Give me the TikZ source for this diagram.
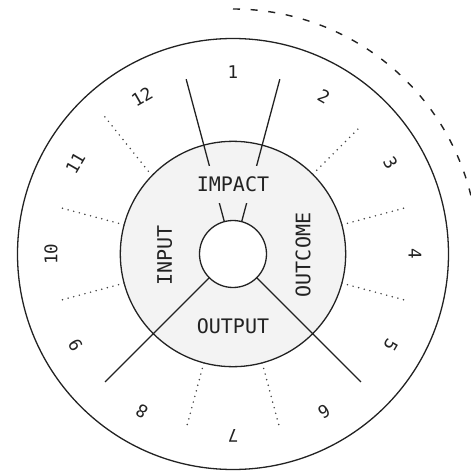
\documentclass[tikz,border=0pt]{standalone}
\usepackage{fontspec}
\newfontfamily\monof{DejaVu Sans Mono}
\definecolor{ink}{HTML}{222222}
\definecolor{midfill}{HTML}{F3F3F3}
\definecolor{dotink}{HTML}{444444}
\tikzset{
  ring/.style={circle, draw=ink, line width=1.3pt, inner sep=0pt, outer sep=0pt},
  spoke/.style={draw=ink, line width=1.3pt},
  dotline/.style={draw=dotink, line width=1.7pt, line cap=round, dash pattern=on 0pt off 5.8pt},
  dashline/.style={draw=ink, line width=1.4pt, dash pattern=on 7pt off 10.7pt},
  sector/.style={font=\monof\fontsize{20}{24}\selectfont, text=ink, inner sep=0pt},
  num/.style={font=\monof\fontsize{17.5}{20}\selectfont, text=ink, inner sep=0pt}
}
\begin{document}
\begin{tikzpicture}[x=1pt,y=1pt]
\useasboundingbox (-233,-218) rectangle (238,254);
\clip (-233,-218) rectangle (238,254);
% dashed arc
\draw[dashline] (90:245) arc[start angle=90, end angle=-10, radius=245];
% circles
\node[ring, minimum size=431pt] (outer) at (0,0) {};
\node[ring, fill=midfill, minimum size=225.4pt] (mid) at (0,0) {};
\node[ring, fill=white, minimum size=67pt] (core) at (0,0) {};
% dotted dividers
\foreach \a in {15,45,165,195,255,285,345} {
  \coordinate (d\a) at (\a:181);
  \draw[dotline] (mid.\a) -- (d\a);
}
\coordinate (d135) at (133:190);
\draw[dotline] (mid.136) -- (d135);
% solid spokes
\foreach \a in {105,75,225,315} {
  \coordinate (s\a) at (\a:181);
  \draw[spoke] (core.\a) -- (s\a);
}
% sector labels
\node[sector, fill=midfill, minimum height=36.5pt, minimum width=76pt] (impact) at (0,69.3) {IMPACT};
\node[sector] (output) at (0,-72) {OUTPUT};
\node[sector, rotate=90] (input) at (-68.3,-1.3) {INPUT};
\node[sector, rotate=90] (outcome) at (70,-1) {OUTCOME};
% numbers
\foreach \k in {1,...,12} {
  \node[num, rotate={-30*(\k-1)}] (n\k) at ({90-30*(\k-1)}:182) {\k};
}
\end{tikzpicture}
\end{document}
